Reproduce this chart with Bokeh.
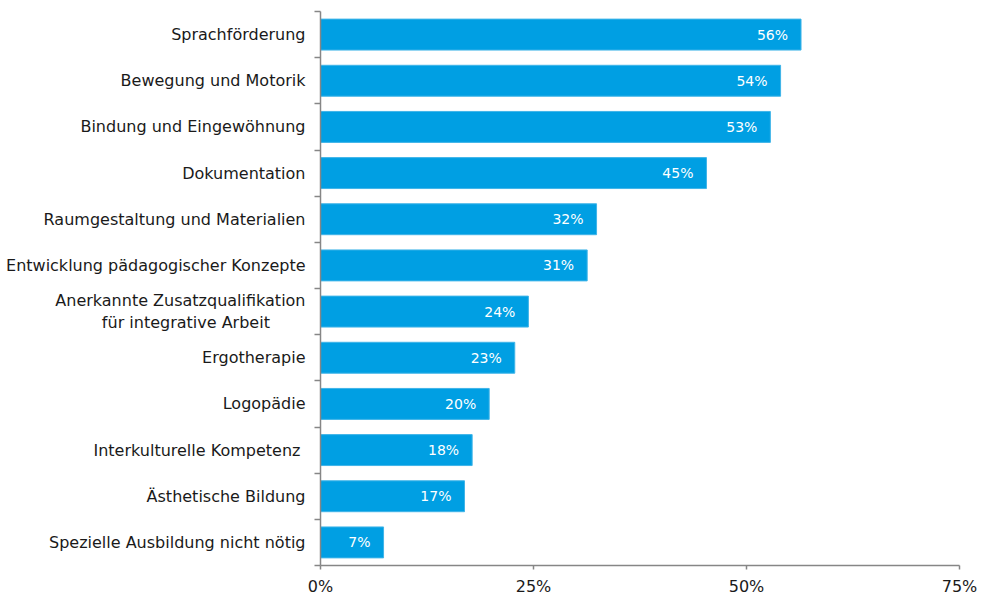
from bokeh.plotting import figure
from bokeh.models import Range1d, FixedTicker, ColumnDataSource, LabelSet, PrintfTickFormatter
from bokeh.core.properties import value
from bokeh.embed import file_html
from bokeh.resources import INLINE

categories = [
    "Sprachförderung",
    "Bewegung und Motorik",
    "Bindung und Eingewöhnung",
    "Dokumentation",
    "Raumgestaltung und Materialien",
    "Entwicklung pädagogischer Konzepte",
    "Anerkannte Zusatzqualifikation\nfür integrative Arbeit" + "\u00a0" * 7,
    "Ergotherapie",
    "Logopädie",
    "Interkulturelle Kompetenz ",
    "Ästhetische Bildung",
    "Spezielle Ausbildung nicht nötig",
]
values = [56.4, 54.0, 52.8, 45.3, 32.4, 31.3, 24.4, 22.8, 19.8, 17.8, 16.9, 7.4]
x_ticks = [0, 25, 50, 75]

n = len(categories)
ypos = list(range(n))
labels = [f"{v:.0f}%" for v in values]
src = ColumnDataSource(dict(y=ypos, v=values, lbl=labels))

AXIS = "#868686"
TXT = "#1a1a1a"
FONT = "DejaVu Sans"

p = figure(frame_width=639, frame_height=554, x_range=Range1d(0, 75), y_range=Range1d(n - 0.5, -0.5),
           output_backend="svg", toolbar_location=None,
           min_border_left=320, min_border_right=18, min_border_top=11, min_border_bottom=0)
p.outline_line_color = None
p.xgrid.grid_line_color = None
p.ygrid.grid_line_color = None

p.hbar(y="y", left=0, right="v", height=0.67, source=src, fill_color="#009FE3", line_color="#3fb4e8", line_width=1)

p.add_layout(LabelSet(x="v", y="y", text="lbl", source=src, x_offset=-13, text_align="right",
                      text_baseline="middle", text_color="white", text_font_size="14px",
                      text_font=value(FONT)))

ya = p.yaxis[0]
ya.ticker = FixedTicker(ticks=ypos, minor_ticks=[i - 0.5 for i in range(n + 1)])
ya.major_label_overrides = {i: c for i, c in enumerate(categories)}
ya.major_tick_in = 0
ya.major_tick_out = 0
ya.major_tick_line_color = None
ya.minor_tick_in = 0
ya.minor_tick_out = 6
ya.minor_tick_line_color = AXIS
ya.minor_tick_line_width = 1.5
ya.axis_line_color = AXIS
ya.axis_line_width = 1.5
ya.major_label_standoff = 9
ya.major_label_text_font = FONT
ya.major_label_text_font_size = "16px"
ya.major_label_text_color = TXT

xa = p.xaxis[0]
xa.ticker = FixedTicker(ticks=x_ticks, minor_ticks=[])
xa.formatter = PrintfTickFormatter(format="%d%%")
xa.major_tick_in = 0
xa.major_tick_out = 4
xa.major_tick_line_color = AXIS
xa.major_tick_line_width = 1.5
xa.minor_tick_line_color = None
xa.axis_line_color = AXIS
xa.axis_line_width = 1.5
xa.major_label_standoff = 7
xa.major_label_text_font = FONT
xa.major_label_text_font_size = "16px"
xa.major_label_text_color = TXT

open("out.html", "w").write(file_html(p, INLINE))
